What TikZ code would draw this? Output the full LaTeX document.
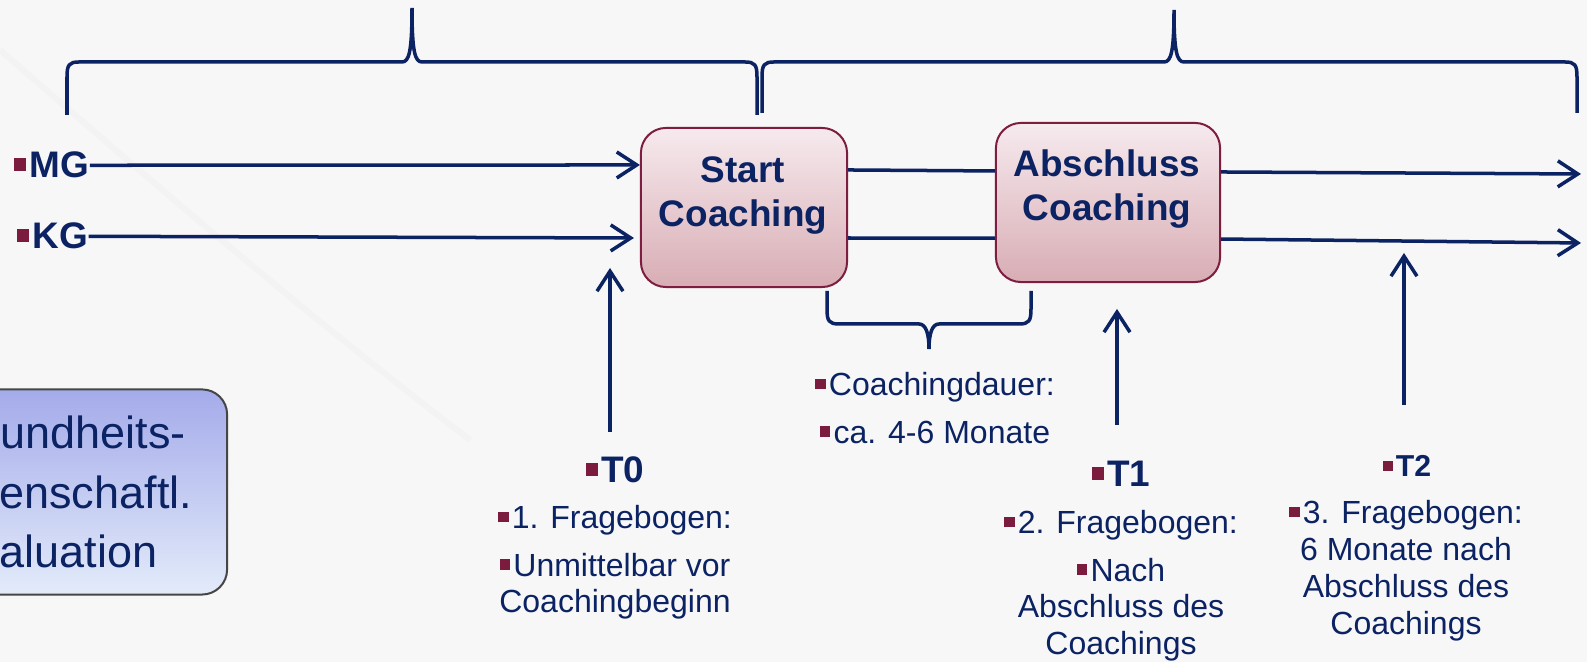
\documentclass[tikz,border=0pt]{standalone}
\usepackage{fontspec}
\setmainfont{Liberation Sans}
\definecolor{navy}{HTML}{0B2263}
\definecolor{bulletred}{HTML}{7B1B3D}
\definecolor{boxred}{HTML}{7D1D3F}
\definecolor{pinktop}{HTML}{F6EAEE}
\definecolor{pinkbot}{HTML}{D8ADB4}
\definecolor{bluetop}{HTML}{A4ABEA}
\definecolor{bluebot}{HTML}{E3EBFA}
\definecolor{bggray}{HTML}{F7F7F8}
\usetikzlibrary{arrows.meta, positioning, calc}
\newcommand{\bul}{{\color{bulletred}\rule[0.2em]{0.33em}{0.33em}}\hspace{0.1em}}
\newcommand{\curlyspan}[7]
{
	\draw[line width=0.035cm, navy] (#1,#4) -- ({#1},{#5+15*(#7)}) .. controls ({#1},{#5+3*(#7)}) and ({#1+2},#5) .. ({#1+12},#5) -- ({#2-10},#5) .. controls ({#2-3},#5) and ({#2},{#5-10*(#7)}) .. (#2,#6) .. controls ({#2},{#5-10*(#7)}) and ({#2+3},#5) .. ({#2+10},#5) -- ({#3-12},#5) .. controls ({#3-2},#5) and ({#3},{#5+3*(#7)}) .. ({#3},{#5+15*(#7)}) -- (#3,#4)
}

\begin{document}
\begin{tikzpicture}[x=0.01cm, y=-0.01cm,
	every node/.append style={text=navy, inner sep=0pt},
	cbox/.style={rounded corners=0.25cm, draw=boxred, line width=0.02cm, top color=pinktop, bottom color=pinkbot, minimum height=1.59cm},
	ctext/.style={font=\fontsize{10.5}{12.4}\selectfont\bfseries, align=center, anchor=north},
	ttext/.style={font=\fontsize{9.1}{10.5}\selectfont, align=center, anchor=north},
	tlabel/.style={font=\fontsize{10.5}{12.4}\selectfont\bfseries, anchor=base},
	conn/.style={line width=0.035cm, draw=navy},
	arr/.style={conn, -{Straight Barb[length=0.2cm, width=0.26cm]}}]

	\useasboundingbox (0,0) rectangle (1587,662);
	\clip (0,0) rectangle (1587,662);
	\fill[bggray] (0,0) rectangle (1587,662);
	\draw[black!6, line width=0.06cm, opacity=0.5] (0,50) .. controls (150,180) and (300,310) .. (470,440);

	\node[draw=gray!55!black, line width=0.02cm, rounded corners=0.25cm, top color=bluetop, bottom color=bluebot, minimum width=3.5cm, minimum height=2.05cm, font=\fontsize{12.8}{17}\selectfont, align=center] (EV) at (52,492) {Gesundheits-\\wissenschaftl.\\Evaluation};

	\node[cbox, minimum width=2.06cm] (SC) at (744,207.5) {};
	\node[ctext] (SCtxt) at (743,156) {Start\\Coaching};
	\node[cbox, minimum width=2.24cm] (AC) at (1108,202.5) {};
	\node[ctext] (ACtxt) at (1107,149) {Abschluss\\Coaching};

	\node[tlabel, anchor=base west] (MG) at (13,178) {\bul MG};
	\node[tlabel, anchor=base west] (KG) at (16,249) {\bul KG};
	\coordinate (MGend) at (1581,174);
	\coordinate (KGend) at (1581,243);
	\draw[arr] (MG.east) -- ([yshift=0.425cm]SC.west);
	\draw[arr] (KG.east) -- ([xshift=-0.06cm, yshift=-0.305cm]SC.west);
	\draw[conn] ([yshift=0.375cm]SC.east) -- ([yshift=0.315cm]AC.west);
	\draw[conn] ([yshift=-0.305cm]SC.east) -- ([yshift=-0.355cm]AC.west);
	\draw[arr] ([yshift=0.305cm]AC.east) -- (MGend);
	\draw[arr] ([yshift=-0.365cm]AC.east) -- (KGend);

	\curlyspan{67}{412}{757}{115}{62}{8}{1};
	\curlyspan{762}{1174}{1577}{113}{62}{10}{1};
	\curlyspan{827}{929}{1031}{291}{324}{349}{-1};

	\node[ttext] (CD) at (935,372) {\bul Coachingdauer:\\[2.9pt]\bul ca. 4-6 Monate};

	\node[tlabel] (T0) at (615,483) {\bul T0};
	\node[ttext] (T0txt) at (615,505) {\bul 1. Fragebogen:\\[2.9pt]\bul Unmittelbar vor\\Coachingbeginn};
	\node[tlabel] (T1) at (1121,487) {\bul T1};
	\node[ttext] (T1txt) at (1121,510) {\bul 2. Fragebogen:\\[2.9pt]\bul Nach\\Abschluss des\\Coachings};
	\node[tlabel, font=\fontsize{8.6}{10}\selectfont\bfseries] (T2) at (1407,477) {\bul T2};
	\node[ttext] (T2txt) at (1406,500) {\bul 3. Fragebogen:\\6 Monate nach\\Abschluss des\\Coachings};

	\coordinate (T0foot) at (610,432);
	\coordinate (T0tip) at (610,268);
	\coordinate (T1foot) at (1117,425);
	\coordinate (T1tip) at (1117,309);
	\coordinate (T2foot) at (1404,405);
	\coordinate (T2tip) at (1404,253);
	\draw[arr] (T0foot) -- (T0tip);
	\draw[arr] (T1foot) -- (T1tip);
	\draw[arr] (T2foot) -- (T2tip);
\end{tikzpicture}
\end{document}
